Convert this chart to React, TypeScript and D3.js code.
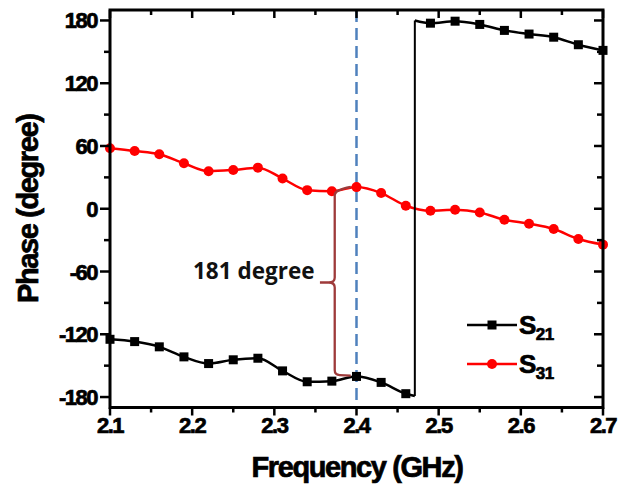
import React from "react";
import * as d3 from "d3";

const freqs = [2.10, 2.13, 2.16, 2.19, 2.22, 2.25, 2.28, 2.31, 2.34, 2.37, 2.40, 2.43, 2.46, 2.49, 2.52, 2.55, 2.58, 2.61, 2.64, 2.67, 2.70];
const s21 = [-124.8, -127, -132, -141.6, -148, -144.4, -142.9, -155, -165.4, -164.8, -160.3, -166, -176.8, 177.4, 179.3, 176.2, 170.5, 167, 164, 156.8, 151.4];
const s31 = [57.8, 55.2, 52.1, 43.5, 35.9, 37.1, 39.3, 28.9, 17.8, 16.8, 20.7, 15.0, 2.9, -1.9, -1.0, -3.5, -10.5, -14.3, -19.4, -28.9, -34.3];
const wrapFreq = 2.471;
const wrapLow = -179;
const wrapHigh = 180;
const markerFreq = 2.4;
const xTicks = [2.1, 2.2, 2.3, 2.4, 2.5, 2.6, 2.7];
const xMinor = [2.15, 2.25, 2.35, 2.45, 2.55, 2.65];
const yTicks = [-180, -120, -60, 0, 60, 120, 180];
const yMinor = [-150, -90, -30, 30, 90, 150];
const braceFreq = 2.3735;
const braceTipFreq = 2.3555;
const braceEndFreq = 2.393;
const braceTop = 17;
const braceBottom = -158;
const braceMid = -70.5;
const braceLabel = "181 degree";

const W = 620, H = 487;
const L = 110, R = 603, T = 10, B = 407.5;
const x = d3.scaleLinear().domain([2.1, 2.7]).range([L, R]);
const y = d3.scaleLinear().domain([-190, 190]).range([B, T]);

const tickFont = "'Liberation Sans', Arial, sans-serif";

export default function App() {
  const idx = freqs.map((_, i) => i);
  const split = s21.findIndex((v) => v > 0);
  const seg1: [number, number][] = [
    ...idx.slice(0, split).map((i) => [freqs[i], s21[i]] as [number, number]),
    [wrapFreq, wrapLow],
  ];
  const seg2: [number, number][] = [
    [wrapFreq, wrapHigh],
    ...idx.slice(split).map((i) => [freqs[i], s21[i]] as [number, number]),
  ];
  const line = d3
    .line<[number, number]>()
    .x((d) => x(d[0]))
    .y((d) => y(d[1]))
    .curve(d3.curveMonotoneX);
  const s31pts = idx.map((i) => [freqs[i], s31[i]] as [number, number]);

  const bx = x(braceFreq);
  const btx = x(braceTipFreq);
  const bex = x(braceEndFreq);
  const byT = y(braceTop);
  const byB = y(braceBottom);
  const byM = y(braceMid);
  const bracePath = `M ${bex} ${byT - 4} Q ${bx} ${byT - 1} ${bx} ${byT + 4} L ${bx} ${byM - 5} Q ${bx} ${byM} ${bx - 6} ${byM} L ${btx} ${byM} M ${bx - 6} ${byM} Q ${bx} ${byM} ${bx} ${byM + 5} L ${bx} ${byB - 4} Q ${bx} ${byB + 1} ${bx + 5} ${byB + 1} L ${bex} ${byB + 1.5}`;

  const dark = "#000";
  const heavy = { stroke: "#000", strokeWidth: 0.7 };
  return (
    <svg width={W} height={H} style={{ position: "absolute", left: 0, top: 0, background: "#fff" }}>
      <rect x={0} y={0} width={W} height={H} fill="#fff" />
      {/* dashed marker line */}
      <line x1={x(markerFreq)} x2={x(markerFreq)} y1={T} y2={B} stroke="#4f81bd" strokeWidth={2.5} strokeDasharray="12 6" />
      {/* S31 */}
      <path d={line(s31pts) || ""} fill="none" stroke="#ff0000" strokeWidth={2.5} />
      {s31pts.map((d, i) => (
        <circle key={"c" + i} cx={x(d[0])} cy={y(d[1])} r={5} fill="#ff0000" />
      ))}
      {/* S21 */}
      <path d={line(seg1) || ""} fill="none" stroke={dark} strokeWidth={2.5} />
      <path d={line(seg2) || ""} fill="none" stroke={dark} strokeWidth={2.5} />
      <line x1={x(wrapFreq)} x2={x(wrapFreq)} y1={y(wrapLow)} y2={y(wrapHigh)} stroke={dark} strokeWidth={2} />
      {idx.map((i) => (
        <rect key={"s" + i} x={x(freqs[i]) - 4.5} y={y(s21[i]) - 4.5} width={9} height={9} fill={dark} />
      ))}
      {/* brace */}
      <path d={bracePath} fill="none" stroke="#9e3a3a" strokeWidth={2.3} />
      <text x={193} y={278.5} fontFamily="'Open Sans', 'Noto Sans', sans-serif" fontWeight={700} fontSize={22.5} fill="#111">
        {braceLabel}
      </text>
      {/* axes frame */}
      <rect x={L} y={T} width={R - L} height={B - T} fill="none" stroke={dark} strokeWidth={3} />
      {/* x ticks bottom (outward) and top (inward) */}
      {xTicks.map((t) => (
        <g key={"xt" + t}>
          <line x1={x(t)} x2={x(t)} y1={B} y2={B + 8} stroke={dark} strokeWidth={2.5} />
          <line x1={x(t)} x2={x(t)} y1={T} y2={T + 8} stroke={dark} strokeWidth={2.5} />
          <text x={x(t)} y={433} textAnchor="middle" fontFamily={tickFont} fontWeight={700} fontSize={22} letterSpacing={-1.5} {...heavy}>
            {t.toFixed(1)}
          </text>
        </g>
      ))}
      {xMinor.map((t) => (
        <g key={"xm" + t}>
          <line x1={x(t)} x2={x(t)} y1={B} y2={B + 5} stroke={dark} strokeWidth={2.5} />
          <line x1={x(t)} x2={x(t)} y1={T} y2={T + 5} stroke={dark} strokeWidth={2.5} />
        </g>
      ))}
      {yTicks.map((t) => (
        <g key={"yt" + t}>
          <line x1={L - 10} x2={L} y1={y(t)} y2={y(t)} stroke={dark} strokeWidth={2.5} />
          <line x1={R - 9} x2={R} y1={y(t)} y2={y(t)} stroke={dark} strokeWidth={2.5} />
          <text x={97} y={y(t) + 8} textAnchor="end" fontFamily={tickFont} fontWeight={700} fontSize={22} letterSpacing={-1.5} {...heavy}>
            {t}
          </text>
        </g>
      ))}
      {yMinor.map((t) => (
        <g key={"ym" + t}>
          <line x1={L - 6} x2={L} y1={y(t)} y2={y(t)} stroke={dark} strokeWidth={2.5} />
          <line x1={R - 6} x2={R} y1={y(t)} y2={y(t)} stroke={dark} strokeWidth={2.5} />
        </g>
      ))}
      {/* axis titles */}
      <text x={357} y={477} textAnchor="middle" fontFamily={tickFont} fontWeight={700} fontSize={29} letterSpacing={-1.4} {...heavy}>
        Frequency (GHz)
      </text>
      <text transform={`translate(38, ${y(0)}) rotate(-90)`} textAnchor="middle" fontFamily={tickFont} fontWeight={700} fontSize={29} letterSpacing={-1.4} {...heavy}>
        Phase (degree)
      </text>
      {/* legend */}
      <line x1={467} x2={517} y1={325} y2={325} stroke={dark} strokeWidth={2.5} />
      <rect x={492 - 4.5} y={325 - 4.5} width={9} height={9} fill={dark} />
      <text x={519} y={333.5} fontFamily={tickFont} fontWeight={700} fontSize={26} letterSpacing={-0.5} {...heavy}>
        S<tspan fontSize={17} dy={6}>21</tspan>
      </text>
      <line x1={467} x2={517} y1={364} y2={364} stroke="#ff0000" strokeWidth={2.5} />
      <circle cx={492} cy={364} r={5} fill="#ff0000" />
      <text x={519} y={372.5} fontFamily={tickFont} fontWeight={700} fontSize={26} letterSpacing={-0.5} {...heavy}>
        S<tspan fontSize={17} dy={6}>31</tspan>
      </text>
    </svg>
  );
}
